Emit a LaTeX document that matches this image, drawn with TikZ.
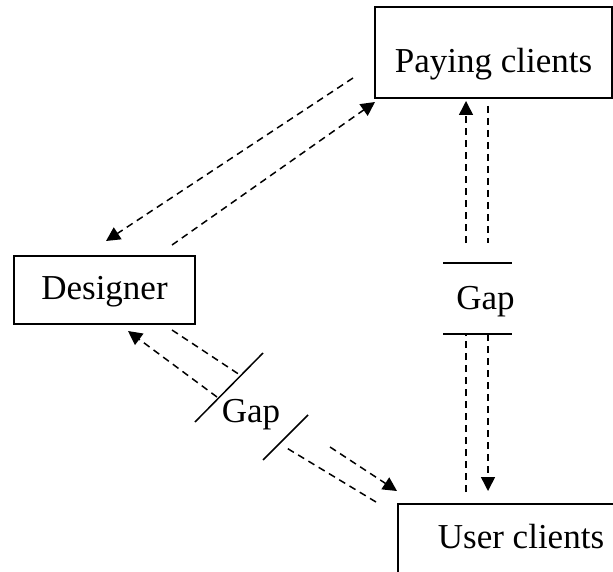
\documentclass[tikz,border=0pt]{standalone}
\usepackage{fontspec}
\setmainfont{Liberation Serif}
\usetikzlibrary{arrows.meta}
\begin{document}
\begin{tikzpicture}[x=0.5pt,y=-0.5pt,
  box/.style={draw,line width=1pt,inner sep=0pt,anchor=base,font=\fontsize{17.5pt}{21pt}\selectfont},
  flow/.style={dash pattern=on 3.5pt off 2.5pt,line width=0.75pt},
  tip/.style={-{Triangle[length=7pt,width=7pt]}},
  bar/.style={line width=0.75pt},
  lbl/.style={anchor=base,inner sep=0pt,font=\fontsize{17.5pt}{21pt}\selectfont}]
\clip (0,0) rectangle (613,571);
% boxes
\node[box,minimum width=118.5pt,text height=33pt,text depth=12.5pt] (pc) at (493.5,73) {Paying clients};
\node[box,minimum width=90.5pt,text height=21.5pt,text depth=12.5pt] (ds) at (104.5,299) {Designer};
\node[box,minimum width=123pt,text height=22pt,text depth=14pt] (uc) at (521,548) {User clients};
% gap labels
\node[lbl] (g1) at (485.5,309) {Gap};
\node[lbl] (g2) at (251,422) {Gap};
% connector end points
\coordinate (e1) at (353,78);  \coordinate (e2) at (106,241);
\coordinate (f1) at (172,245); \coordinate (f2) at (375,102);
\coordinate (c1) at (466,492); \coordinate (c2) at (466,334);
\coordinate (c3) at (466,243); \coordinate (c4) at (466,101);
\coordinate (d1) at (488,106); \coordinate (d2) at (488,243);
\coordinate (d3) at (488,334); \coordinate (d4) at (488,491);
\coordinate (a1) at (376,502); \coordinate (a2) at (285,447);
\coordinate (a3) at (217,397); \coordinate (a4) at (128,331);
\coordinate (b1) at (172,330); \coordinate (b2) at (240,375);
\coordinate (b3) at (330,447); \coordinate (b4) at (397,491);
% gap bars
\coordinate (h1) at (443,263); \coordinate (h2) at (512,263);
\coordinate (h3) at (443,334); \coordinate (h4) at (512,334);
\coordinate (s1) at (195,422); \coordinate (s2) at (263,353);
\coordinate (s3) at (263,460); \coordinate (s4) at (308,415);
% Paying clients <-> Designer
\draw[flow,tip] (e1) -- (e2);
\draw[flow,tip] (f1) -- (f2);
% Paying clients <-> User clients
\draw[flow] (c1) -- (c2);
\draw[flow,tip] (c3) -- (c4);
\draw[flow] (d1) -- (d2);
\draw[flow,tip] (d3) -- (d4);
\draw[bar] (h1) -- (h2);
\draw[bar] (h3) -- (h4);
% Designer <-> User clients
\draw[flow] (a1) -- (a2);
\draw[flow,tip] (a3) -- (a4);
\draw[flow] (b1) -- (b2);
\draw[flow,tip] (b3) -- (b4);
\draw[bar] (s1) -- (s2);
\draw[bar] (s3) -- (s4);
\end{tikzpicture}
\end{document}
